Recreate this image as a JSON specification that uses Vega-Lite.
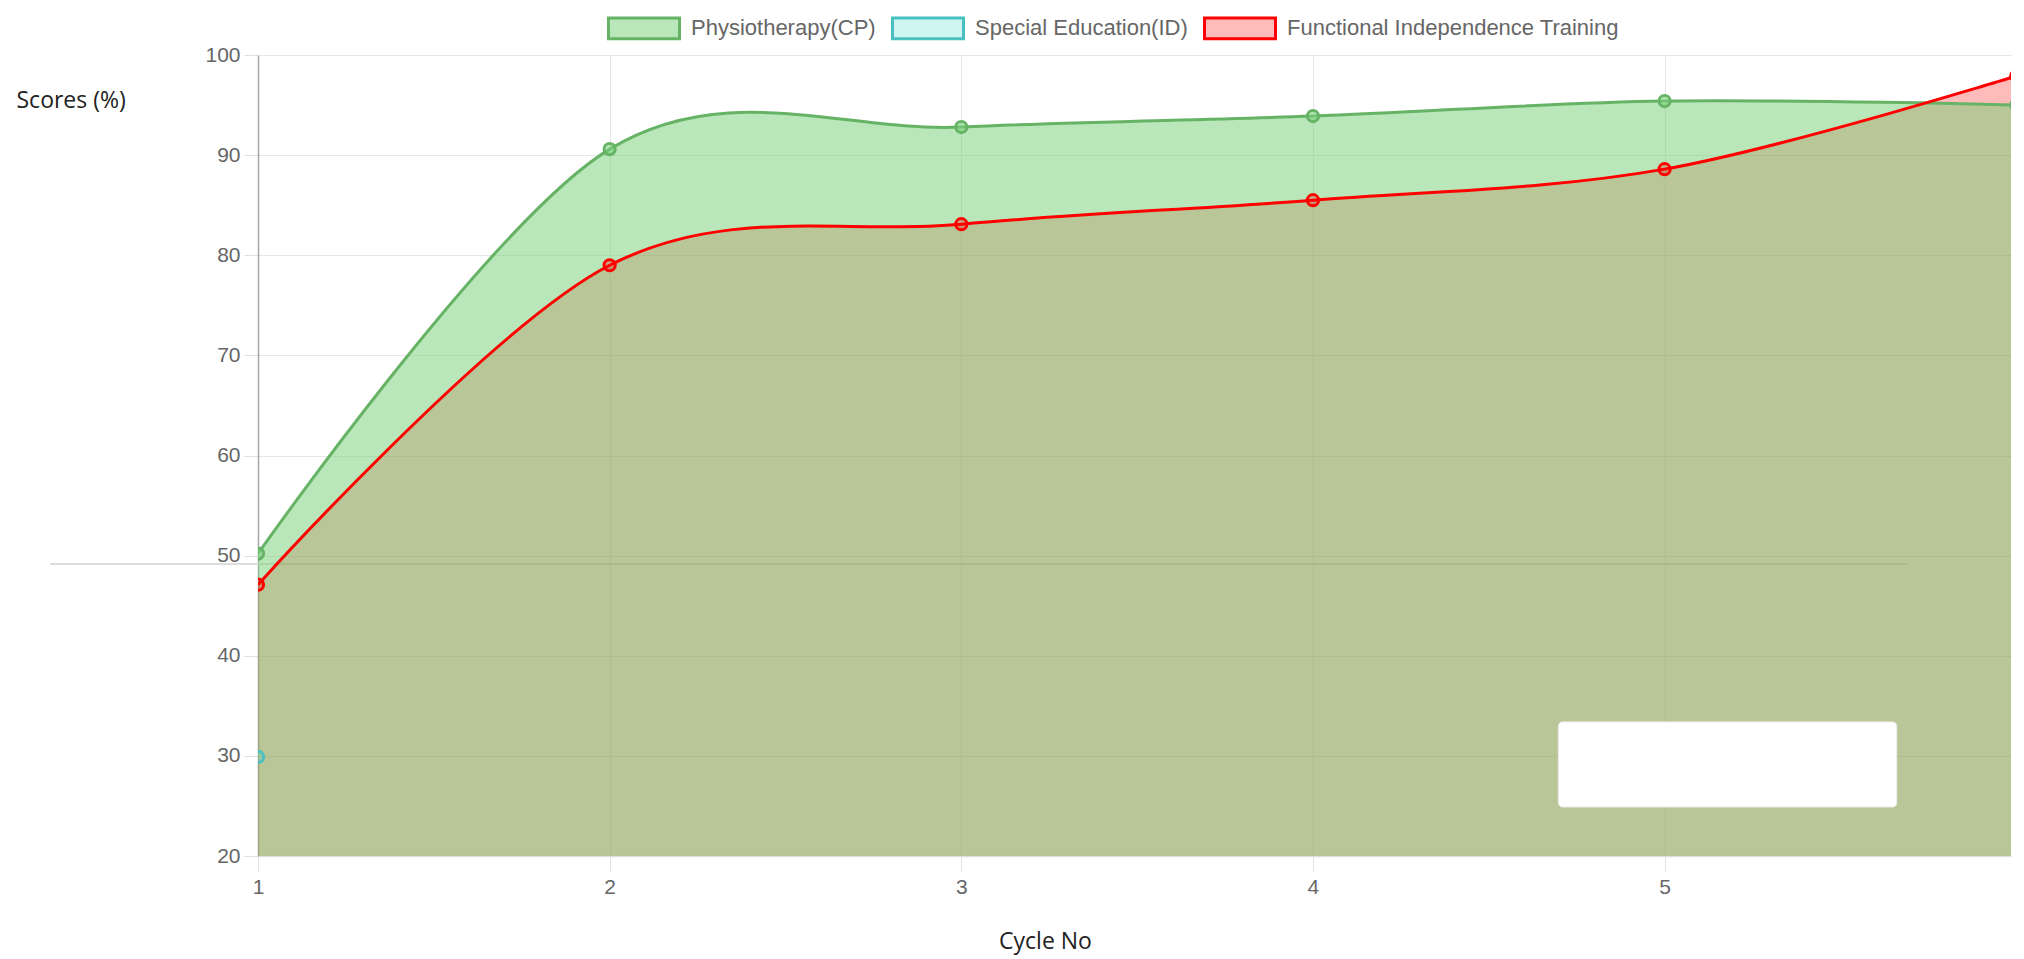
{
  "$schema": "https://vega.github.io/schema/vega-lite/v6.json",
  "width": 1753,
  "height": 801,
  "autosize": {"type": "none"},
  "padding": {"left": 258, "top": 55, "right": 13, "bottom": 103},
  "background": "white",
  "config": {
    "view": {"stroke": null},
    "legend": {
      "orient": "none",
      "legendX": 349,
      "legendY": -64,
      "direction": "horizontal",
      "padding": 0,
      "symbolType": "M-1,-0.29L1,-0.29L1,0.29L-1,0.29Z",
      "symbolSize": 5041,
      "symbolStrokeWidth": 3,
      "symbolOpacity": 1,
      "labelFont": "Liberation Sans",
      "labelFontSize": 22,
      "labelColor": "#666666",
      "labelOffset": 10,
      "columnPadding": 10,
      "labelLimit": 1000
    }
  },
  "datasets": {
    "scores": [
      {"cycle": 1, "series": "Physiotherapy(CP)", "score": 50.2},
      {"cycle": 2, "series": "Physiotherapy(CP)", "score": 90.6},
      {"cycle": 3, "series": "Physiotherapy(CP)", "score": 92.8},
      {"cycle": 4, "series": "Physiotherapy(CP)", "score": 93.9},
      {"cycle": 5, "series": "Physiotherapy(CP)", "score": 95.4},
      {"cycle": 6, "series": "Physiotherapy(CP)", "score": 95.0},
      {"cycle": 1, "series": "Special Education(ID)", "score": 29.9},
      {"cycle": 1, "series": "Functional Independence Training", "score": 47.1},
      {"cycle": 2, "series": "Functional Independence Training", "score": 79.0},
      {"cycle": 3, "series": "Functional Independence Training", "score": 83.1},
      {"cycle": 4, "series": "Functional Independence Training", "score": 85.5},
      {"cycle": 5, "series": "Functional Independence Training", "score": 88.6},
      {"cycle": 6, "series": "Functional Independence Training", "score": 97.9}
    ],
    "guide": [{"x0": 0.409, "x1": 5.69, "y": 49.17}],
    "box": [{"x0": 4.698, "x1": 5.66, "y0": 33.39, "y1": 24.9}]
  },
  "layer": [
    {
      "data": {"name": "guide"},
      "mark": {"type": "rule", "color": "#dcdcdc", "strokeWidth": 2, "clip": false},
      "encoding": {
        "x": {
          "field": "x0", "type": "quantitative",
          "scale": {"domain": [1, 5.985], "nice": false, "zero": false},
          "axis": {
            "title": "Cycle No", "values": [1, 2, 3, 4, 5], "format": "d",
            "grid": true, "gridColor": "#e6e6e6", "gridWidth": 1,
            "domainColor": "#e0e0e0", "domainWidth": 1.5,
            "tickColor": "#e0e0e0", "tickSize": 15, "tickWidth": 1,
            "labelPadding": 5, "labelFont": "Liberation Sans", "labelFontSize": 21, "labelColor": "#666666", "labelFlush": false,
            "titleFont": "Open Sans", "titleFontSize": 23, "titleFontWeight": "normal", "titleColor": "#222222",
            "titleX": 787, "titleAlign": "center", "titlePadding": 33
          }
        },
        "x2": {"field": "x1"},
        "y": {
          "field": "y", "type": "quantitative",
          "scale": {"domain": [20, 100], "nice": false, "zero": false},
          "axis": {
            "title": "Scores (%)", "values": [20, 30, 40, 50, 60, 70, 80, 90, 100],
            "grid": true, "gridColor": "#e6e6e6", "gridWidth": 1,
            "domainColor": "#a8a8a8", "domainWidth": 1.5,
            "tickColor": "#e0e0e0", "tickSize": 14, "tickWidth": 1,
            "labelPadding": 4, "labelFont": "Liberation Sans", "labelFontSize": 21, "labelColor": "#666666", "labelFlush": false,
            "titleFont": "Open Sans", "titleFontSize": 23, "titleFontWeight": "normal", "titleColor": "#222222",
            "titleAngle": 0, "titleX": -242, "titleY": 45, "titleAlign": "left", "titleBaseline": "middle"
          }
        }
      }
    },
    {
      "data": {"name": "scores"},
      "transform": [{"filter": "datum.series === 'Functional Independence Training'"}],
      "mark": {"type": "area", "interpolate": "cardinal", "tension": 0, "clip": true},
      "encoding": {
        "x": {"field": "cycle", "type": "quantitative", "scale": {"domain": [1, 5.985], "nice": false, "zero": false}},
        "y": {"field": "score", "type": "quantitative", "stack": null, "scale": {"domain": [20, 100], "nice": false, "zero": false}},
        "y2": {"datum": 20},
        "fill": {
          "field": "series", "type": "nominal",
          "scale": {"domain": ["Physiotherapy(CP)", "Special Education(ID)", "Functional Independence Training"], "range": ["rgba(120,209,120,0.52)", "rgba(80,220,200,0.28)", "rgba(255,0,0,0.27)"]},
          "legend": {"title": null, "symbolType": "M-1,-0.29L1,-0.29L1,0.29L-1,0.29Z"}
        }
      }
    },
    {
      "data": {"name": "scores"},
      "transform": [{"filter": "datum.series === 'Physiotherapy(CP)'"}],
      "mark": {"type": "area", "interpolate": "cardinal", "tension": 0, "clip": true},
      "encoding": {
        "x": {"field": "cycle", "type": "quantitative", "scale": {"domain": [1, 5.985], "nice": false, "zero": false}},
        "y": {"field": "score", "type": "quantitative", "stack": null, "scale": {"domain": [20, 100], "nice": false, "zero": false}},
        "y2": {"datum": 20},
        "fill": {
          "field": "series", "type": "nominal",
          "scale": {"domain": ["Physiotherapy(CP)", "Special Education(ID)", "Functional Independence Training"], "range": ["rgba(120,209,120,0.52)", "rgba(80,220,200,0.28)", "rgba(255,0,0,0.27)"]},
          "legend": {"title": null, "symbolType": "M-1,-0.29L1,-0.29L1,0.29L-1,0.29Z"}
        }
      }
    },
    {
      "data": {"name": "scores"},
      "mark": {"type": "line", "interpolate": "cardinal", "tension": 0, "strokeWidth": 3, "clip": true},
      "encoding": {
        "x": {"field": "cycle", "type": "quantitative", "scale": {"domain": [1, 5.985], "nice": false, "zero": false}},
        "y": {"field": "score", "type": "quantitative", "stack": null, "scale": {"domain": [20, 100], "nice": false, "zero": false}},
        "stroke": {
          "field": "series", "type": "nominal",
          "scale": {"domain": ["Physiotherapy(CP)", "Special Education(ID)", "Functional Independence Training"], "range": ["#66b366", "#4bc0c0", "#ff0000"]},
          "legend": {"title": null, "symbolType": "M-1,-0.29L1,-0.29L1,0.29L-1,0.29Z"}
        }
      }
    },
    {
      "data": {"name": "scores"},
      "mark": {"type": "point", "shape": "circle", "filled": true, "size": 125, "strokeWidth": 3, "opacity": 1, "clip": true},
      "encoding": {
        "x": {"field": "cycle", "type": "quantitative", "scale": {"domain": [1, 5.985], "nice": false, "zero": false}},
        "y": {"field": "score", "type": "quantitative", "stack": null, "scale": {"domain": [20, 100], "nice": false, "zero": false}},
        "fill": {
          "field": "series", "type": "nominal",
          "scale": {"domain": ["Physiotherapy(CP)", "Special Education(ID)", "Functional Independence Training"], "range": ["rgba(120,209,120,0.52)", "rgba(80,220,200,0.28)", "rgba(255,0,0,0.27)"]},
          "legend": {"title": null, "symbolType": "M-1,-0.29L1,-0.29L1,0.29L-1,0.29Z"}
        },
        "stroke": {
          "field": "series", "type": "nominal",
          "scale": {"domain": ["Physiotherapy(CP)", "Special Education(ID)", "Functional Independence Training"], "range": ["#66b366", "#4bc0c0", "#ff0000"]},
          "legend": {"title": null, "symbolType": "M-1,-0.29L1,-0.29L1,0.29L-1,0.29Z"}
        }
      }
    },
    {
      "data": {"name": "box"},
      "mark": {"type": "rect", "fill": "#ffffff", "stroke": "#eeeeee", "strokeWidth": 1, "cornerRadius": 4, "clip": true},
      "encoding": {
        "x": {"field": "x0", "type": "quantitative", "scale": {"domain": [1, 5.985], "nice": false, "zero": false}},
        "x2": {"field": "x1"},
        "y": {"field": "y0", "type": "quantitative", "scale": {"domain": [20, 100], "nice": false, "zero": false}},
        "y2": {"field": "y1"}
      }
    }
  ]
}
